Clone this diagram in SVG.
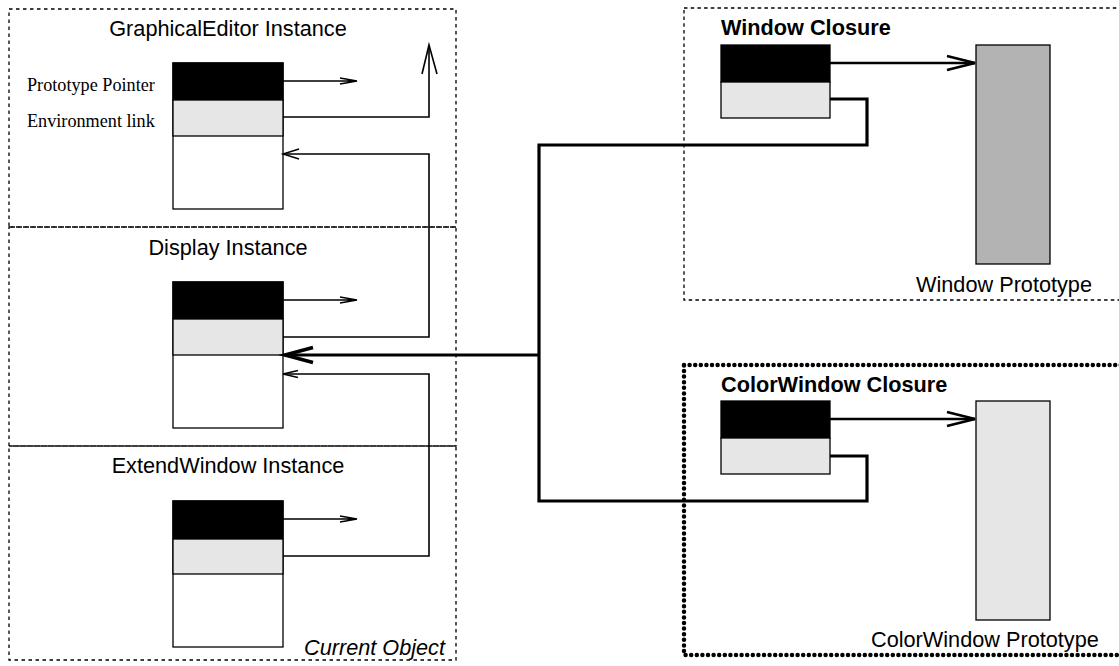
<svg xmlns="http://www.w3.org/2000/svg" width="1119" height="666" viewBox="0 0 1119 666">
  <style>
    .frame { fill: none; stroke: #000; stroke-width: 1.3; stroke-dasharray: 3.5 3.5; }
    .frame-bold { fill: none; stroke: #000; stroke-width: 4.5; stroke-dasharray: 0 5.6; stroke-linecap: round; }
    .slot { stroke: #000; stroke-width: 1.3; }
    .ptr { fill: #000; }
    .env { fill: #e6e6e6; }
    .body { fill: #fff; }
    .title { font-family: "Liberation Sans", Arial, sans-serif; font-size: 21.7px; fill: #000; }
    .bold { font-weight: bold; }
    .italic { font-style: italic; }
    .note { font-family: "Liberation Serif", "Times New Roman", serif; font-size: 18.2px; fill: #000; }
    .thin { fill: none; stroke: #000; stroke-width: 1.4; stroke-linejoin: miter; }
    .mid { fill: none; stroke: #000; stroke-width: 1.6; }
    .thick { fill: none; stroke: #000; stroke-width: 3.2; stroke-linejoin: miter; }
    .head-thick { fill: none; stroke: #000; stroke-width: 3.6; }
    .head-mid { fill: none; stroke: #000; stroke-width: 2.6; }
  </style>

  <!-- Current object: three stacked instances -->
  <g id="graphical-editor-instance">
    <rect class="frame" x="9" y="9" width="447" height="218"/>
    <text class="title" x="228" y="36" text-anchor="middle">GraphicalEditor Instance</text>
    <text class="note" x="27" y="90.5">Prototype Pointer</text>
    <text class="note" x="27" y="126.5">Environment link</text>
    <rect class="slot body" x="173" y="63" width="110" height="146"/>
    <rect class="slot ptr" x="173" y="63" width="110" height="37"/>
    <rect class="slot env" x="173" y="100" width="110" height="36"/>
  </g>

  <g id="display-instance">
    <rect class="frame" x="9" y="227" width="447" height="219"/>
    <text class="title" x="228" y="255" text-anchor="middle">Display Instance</text>
    <rect class="slot body" x="173" y="282" width="110" height="146"/>
    <rect class="slot ptr" x="173" y="282" width="110" height="37"/>
    <rect class="slot env" x="173" y="319" width="110" height="36"/>
  </g>

  <g id="extend-window-instance">
    <rect class="frame" x="9" y="446" width="447" height="214"/>
    <text class="title" x="228" y="473" text-anchor="middle">ExtendWindow Instance</text>
    <rect class="slot body" x="173" y="501" width="110" height="146"/>
    <rect class="slot ptr" x="173" y="501" width="110" height="38"/>
    <rect class="slot env" x="173" y="539" width="110" height="35"/>
    <text class="title italic" x="445" y="655" text-anchor="end">Current Object</text>
  </g>

  <!-- Window closure and its prototype -->
  <g id="window-closure">
    <rect class="frame" x="684" y="8" width="441" height="292" style="stroke-dasharray:3.5 3.2"/>
    <text class="title bold" x="721" y="35">Window Closure</text>
    <rect class="slot ptr" x="721" y="45" width="109" height="37"/>
    <rect class="slot env" x="721" y="82" width="109" height="36"/>
  </g>
  <g id="window-prototype">
    <rect class="slot" x="976" y="45" width="74" height="219" fill="#b3b3b3"/>
    <text class="title" x="916" y="292">Window Prototype</text>
  </g>

  <!-- ColorWindow closure and its prototype -->
  <g id="colorwindow-closure">
    <rect class="frame-bold" x="684" y="365" width="441" height="290"/>
    <text class="title bold" x="721" y="392">ColorWindow Closure</text>
    <rect class="slot ptr" x="721" y="401" width="109" height="37"/>
    <rect class="slot env" x="721" y="438" width="109" height="36"/>
  </g>
  <g id="colorwindow-prototype">
    <rect class="slot" x="976" y="401" width="74" height="219" fill="#e6e6e6"/>
    <text class="title" x="871" y="647">ColorWindow Prototype</text>
  </g>

  <g id="connectors">
    <!-- prototype pointers of the instances -->
    <path class="thin" d="M283 81 H357 M340 78 L357 81 L340 84"/>
    <path class="thin" d="M283 300 H357 M340 297 L357 300 L340 303"/>
    <path class="thin" d="M283 519 H357 M340 516 L357 519 L340 522"/>

    <!-- environment link of GraphicalEditor: leaves upward -->
    <path class="mid" d="M283 117 H429 V45"/>
    <path class="mid" d="M422 74 L429 45 L437 74"/>

    <!-- Display environment link to GraphicalEditor -->
    <path class="mid" d="M283 337 H429 V154 H283"/>
    <path class="thin" d="M299 149 L283 154 L299 159"/>

    <!-- ExtendWindow environment link to Display -->
    <path class="mid" d="M283 556 H429 V374 H283"/>
    <path class="thin" d="M298 370.5 L283 374 L298 377.5"/>

    <!-- closures' environment links into the current object -->
    <path class="thick" d="M830 99 H867 V145 H539 V501 H867 V456 H830"/>
    <path class="thick" d="M539 355 H285"/>
    <path class="head-thick" d="M313 347.5 L285 355 L313 362.5"/>

    <!-- closures' prototype pointers -->
    <path class="thick" d="M830 63 H975" style="stroke-width:2.6"/>
    <path class="head-mid" d="M947 56 L975 63 L947 70"/>
    <path class="thick" d="M830 419 H975" style="stroke-width:2.6"/>
    <path class="head-mid" d="M947 412 L975 419 L947 426"/>
  </g>
</svg>
